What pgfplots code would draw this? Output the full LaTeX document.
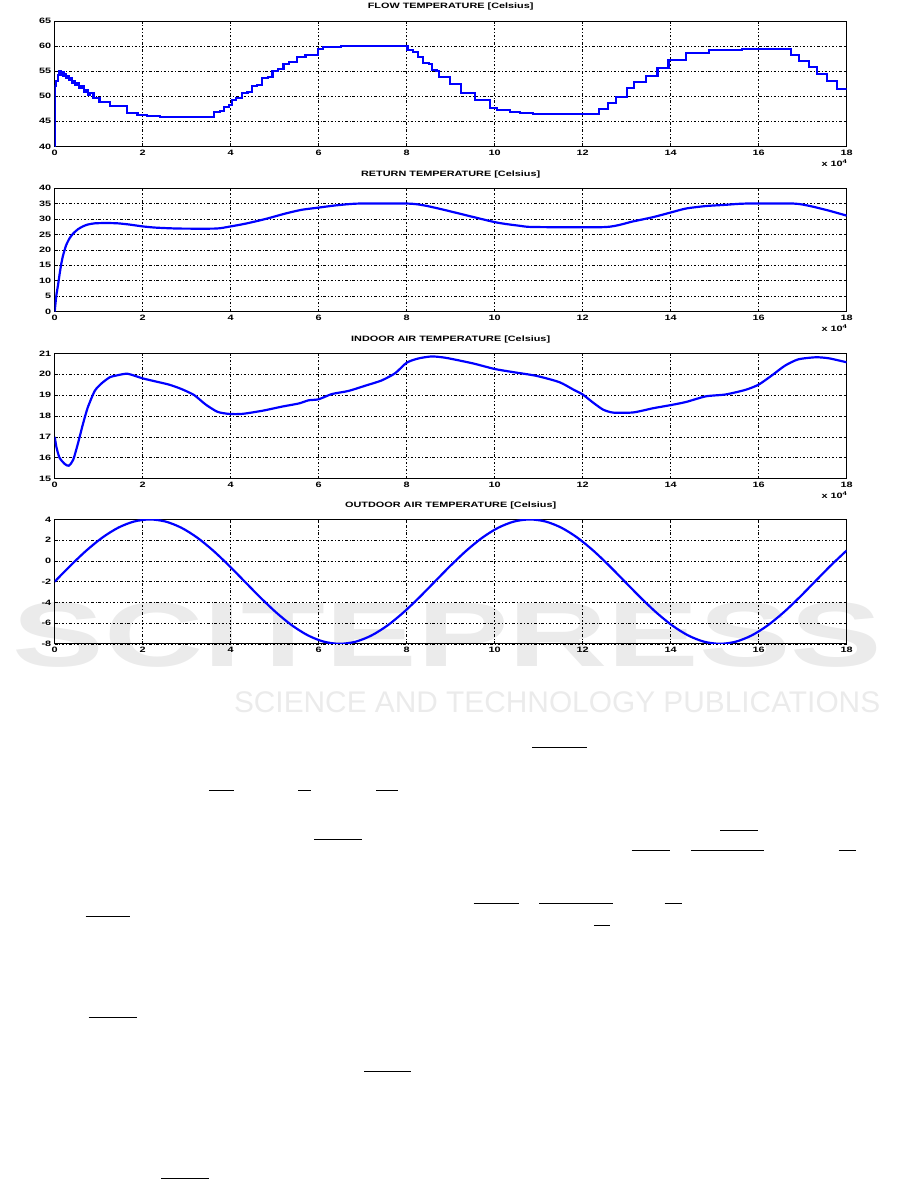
\documentclass[border=0pt]{standalone}
\usepackage{fontspec}
\setmainfont{Liberation Sans}[FakeStretch=1.4]
\newfontfamily\wmfont{Liberation Sans}
\newfontfamily\wmwide{Liberation Sans}[FakeStretch=1.5]
\usepackage{pgfplots}
\pgfplotsset{compat=1.18}
\newcommand\lab{\fontsize{7.8}{9}\selectfont\bfseries}
\pgfplotsset{
  mat/.style={
    scale only axis, width=796pt,
    xmin=0, xmax=18, xtick={0,2,...,18},
    grid=major,
    major grid style={black, line width=0.6pt, dash pattern=on 2.5pt off 2pt on 0.8pt off 2pt},
    axis line style={black, line width=0.8pt},
    tick align=inside, major tick length=3pt,
    tick style={black, line width=0.6pt},
    ticklabel style={font=\lab},
    /pgf/number format/assume math mode=true,
    title style={font=\lab, yshift=1pt},
    every axis plot/.append style={color=blue, line width=2.2pt, no markers},
    anchor=north west,
  }
}
\pgfplotstableread{
x y
0 40
0.003 52
0.03 53
0.07 54.2
0.11 55
0.14 54.3
0.17 54.8
0.20 54.0
0.23 54.4
0.26 53.6
0.29 54.0
0.32 53.2
0.35 53.6
0.39 52.7
0.43 53.0
0.47 52.2
0.51 52.6
0.56 51.6
0.61 52.0
0.66 50.9
0.71 51.2
0.76 50.2
0.80 50.6
0.88 49.7
1.02 48.9
1.25 48.0
1.64 46.7
1.88 46.3
2.10 46.1
2.40 45.8
3.62 46.8
3.75 47.0
3.84 47.9
3.97 48.2
4.03 49.3
4.12 49.6
4.25 50.6
4.38 50.9
4.48 52.0
4.60 52.3
4.72 53.6
4.85 53.8
4.95 55.0
5.08 55.4
5.20 56.5
5.33 56.8
5.50 57.9
5.70 58.3
5.98 59.5
6.10 59.8
6.50 60.0
8.02 59.3
8.15 58.8
8.25 57.9
8.38 56.6
8.50 56.4
8.57 55.3
8.68 55.0
8.74 53.9
8.98 52.4
9.24 50.7
9.55 49.2
9.89 47.7
10.05 47.2
10.34 46.9
10.57 46.7
10.87 46.5
12.38 47.5
12.57 48.7
12.76 49.9
13.00 51.7
13.17 52.8
13.44 54.1
13.70 55.7
13.95 57.3
14.35 58.7
14.87 59.3
15.63 59.5
16.73 58.3
16.92 57.1
17.14 55.9
17.33 54.4
17.56 53.0
17.78 51.5
18.00 51.5
}\flowdata
\pgfplotstableread{
x y
0 0
0.02 3
0.04 5.5
0.08 9
0.11 12
0.15 15.5
0.19 18.2
0.26 21.5
0.34 23.8
0.42 25.3
0.53 26.7
0.64 27.6
0.75 28.2
0.91 28.6
1.17 28.7
1.43 28.6
1.7 28.2
2.0 27.6
2.3 27.2
2.83 26.9
3.66 26.9
3.96 27.5
4.34 28.5
4.79 30.0
5.25 31.8
5.62 33.0
6.0 33.7
6.38 34.4
6.9 35.0
8.03 35.0
8.4 34.4
8.9 32.8
10.0 29.0
10.57 27.8
10.9 27.4
12.53 27.4
13.14 29.2
13.6 30.6
14.0 32.1
14.35 33.4
14.8 34.2
15.25 34.6
15.7 35.0
16.8 35.0
17.17 34.2
17.6 32.7
18.0 31.1
}\returndata
\pgfplotstableread{
x y
0 17.0
0.04 16.5
0.11 16.0
0.23 15.7
0.32 15.62
0.42 15.9
0.53 16.7
0.64 17.6
0.75 18.4
0.91 19.2
1.06 19.55
1.25 19.85
1.43 19.95
1.66 20.02
2.0 19.8
2.3 19.65
2.6 19.5
2.87 19.3
3.17 19.0
3.43 18.55
3.7 18.2
3.96 18.1
4.26 18.1
4.72 18.25
5.17 18.45
5.55 18.6
5.77 18.75
6.0 18.8
6.3 19.05
6.68 19.2
7.06 19.45
7.43 19.7
7.74 20.05
8.0 20.55
8.26 20.75
8.57 20.85
8.9 20.78
9.5 20.52
10.0 20.25
10.42 20.1
10.95 19.92
11.47 19.62
11.8 19.25
12.0 19.03
12.25 18.62
12.47 18.3
12.7 18.16
13.15 18.17
13.6 18.37
14.0 18.52
14.35 18.67
14.8 18.94
15.25 19.03
15.7 19.25
16.0 19.5
16.3 19.94
16.6 20.41
16.9 20.71
17.3 20.81
17.6 20.76
18.0 20.57
}\indoordata
\pgfplotstableread{
x y
0.00 -2
0.36 -0.447
0.72 1
1.08 2.243
1.44 3.196
1.80 3.796
2.16 4
2.52 3.796
2.88 3.196
3.24 2.243
3.60 1
3.96 -0.447
4.32 -2
4.68 -3.553
5.04 -5
5.40 -6.243
5.76 -7.196
6.12 -7.796
6.48 -8
6.84 -7.796
7.20 -7.196
7.56 -6.243
7.92 -5
8.28 -3.553
8.64 -2
9.00 -0.447
9.36 1
9.72 2.243
10.08 3.196
10.44 3.796
10.80 4
11.16 3.796
11.52 3.196
11.88 2.243
12.24 1
12.60 -0.447
12.96 -2
13.32 -3.553
13.68 -5
14.04 -6.243
14.40 -7.196
14.76 -7.796
15.12 -8
15.48 -7.796
15.84 -7.196
16.20 -6.243
16.56 -5
16.92 -3.553
17.28 -2
17.64 -0.447
18.00 1
}\outdoordata
\begin{document}
\begin{tikzpicture}
\path (0pt,0pt) rectangle (901pt,-1180pt);
% watermark
\node[font=\wmwide\bfseries\fontsize{92}{92}\selectfont, text=black!8, inner sep=0pt] at (450pt,-632pt) {SCITEPRESS};
\node[font=\wmfont\fontsize{30}{30}\selectfont, text=black!8, inner sep=0pt] at (560pt,-700pt) {SCIENCE AND TECHNOLOGY PUBLICATIONS};
% stray fraction bars of the page
\begin{scope}[line width=0.8pt, black, x=1pt, y=1pt]
\draw (535,-745) -- (590,-745);
\draw (210,-788) -- (235,-788); \draw (300,-788) -- (313,-788); \draw (378,-788) -- (400,-788);
\draw (316,-838) -- (364,-838);
\draw (724,-829) -- (762,-829);
\draw (635,-849) -- (673,-849); \draw (695,-849) -- (768,-849); \draw (843,-849) -- (860,-849);
\draw (476,-902) -- (522,-902); \draw (542,-902) -- (616,-902); \draw (668,-902) -- (686,-902);
\draw (86,-915) -- (131,-915);
\draw (597,-924) -- (613,-924);
\draw (89,-1017) -- (138,-1017);
\draw (366,-1071) -- (413,-1071);
\draw (162,-1178) -- (210,-1178);
\end{scope}

\begin{axis}[mat, name=a1, at={(55pt,-15pt)}, height=126pt,
  ymin=40, ymax=65, ytick={40,45,...,65},
  title={FLOW TEMPERATURE [Celsius]}]
\addplot[const plot] table[x=x,y=y] {\flowdata};
\end{axis}
\node[anchor=north east, font=\lab, inner sep=0pt] at ([yshift=-13pt,xshift=1pt]a1.south east) {x 10\textsuperscript{4}};

\begin{axis}[mat, name=a2, at={(55pt,-183pt)}, height=124pt,
  ymin=0, ymax=40, ytick={0,5,...,40},
  title={RETURN TEMPERATURE [Celsius]}]
\addplot[smooth, tension=0.4] table[x=x,y=y] {\returndata};
\end{axis}
\node[anchor=north east, font=\lab, inner sep=0pt] at ([yshift=-13pt,xshift=1pt]a2.south east) {x 10\textsuperscript{4}};

\begin{axis}[mat, name=a3, at={(55pt,-349pt)}, height=126pt,
  ymin=15, ymax=21, ytick={15,...,21},
  title={INDOOR AIR TEMPERATURE [Celsius]}]
\addplot[smooth, tension=0.4] table[x=x,y=y] {\indoordata};
\end{axis}
\node[anchor=north east, font=\lab, inner sep=0pt] at ([yshift=-13pt,xshift=1pt]a3.south east) {x 10\textsuperscript{4}};

\begin{axis}[mat, name=a4, at={(55pt,-516pt)}, height=125pt,
  ymin=-8, ymax=4, ytick={-8,-6,...,4},
  title={OUTDOOR AIR TEMPERATURE [Celsius]}]
\addplot[smooth, tension=0.5] table[x=x,y=y] {\outdoordata};
\end{axis}
\end{tikzpicture}
\end{document}
